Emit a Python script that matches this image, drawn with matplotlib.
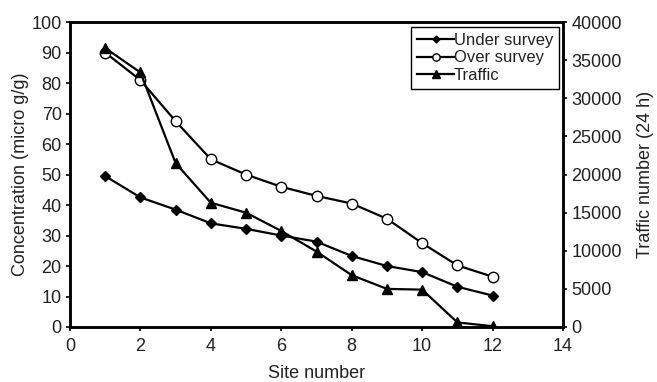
import matplotlib.pyplot as plt
import numpy as np

plt.rcParams['font.family'] = ['Liberation Sans', 'DejaVu Sans']
plt.rcParams['text.color'] = '#222222'
plt.rcParams['axes.labelcolor'] = '#222222'

# site numbers and values
sites = [1, 2, 3, 4, 5, 6, 7, 8, 9, 10, 11, 12]
under_survey = [49.5, 42.5, 38.5, 34.0, 32.2, 30.0, 28.0, 23.3, 20.0, 18.0, 13.2, 10.3]
over_survey = [90.0, 81.0, 67.5, 55.0, 50.0, 46.0, 43.0, 40.5, 35.5, 27.5, 20.2, 16.5]
traffic = [36600, 33400, 21500, 16300, 15000, 12600, 9900, 6800, 5000, 4900, 600, 100]

fig = plt.figure(figsize=(6.57, 3.82), dpi=100)
ax = fig.add_axes([0.1065, 0.144, 0.7505, 0.798])
ax2 = ax.twinx()

l1, = ax.plot(sites, under_survey, color='black', lw=1.6, marker='D', ms=5,
              mfc='black', label='Under survey')
l2, = ax.plot(sites, over_survey, color='black', lw=1.6, marker='o', ms=7.5,
              mfc='white', mec='black', mew=1, label='Over survey')
l3, = ax2.plot(sites, traffic, color='black', lw=1.6, marker='^', ms=7.5,
               mfc='black', label='Traffic')

ax.set_xlim(0, 14)
ax.set_ylim(0, 100)
ax2.set_ylim(0, 40000)
ax.set_xticks(np.arange(0, 15, 2))
ax.set_yticks(np.arange(0, 101, 10))
ax2.set_yticks(np.arange(0, 40001, 5000))

for a in (ax, ax2):
    for s in a.spines.values():
        s.set_linewidth(1.8)
    a.tick_params(direction='out', width=1.2, length=3, labelsize=13, pad=3,
                  labelcolor='#222222')
ax.tick_params(axis='x', pad=5)

ax.set_xlabel('Site number', fontsize=13, labelpad=7)
ax.set_ylabel('Concentration (micro g/g)', fontsize=13, labelpad=2)
ax2.set_ylabel('Traffic number (24 h)', fontsize=13, labelpad=11)

leg = ax.legend(handles=[l1, l2, l3], loc='upper right', fontsize=12,
                handlelength=2.2, handletextpad=0, borderpad=0.35,
                labelspacing=0.15, fancybox=False, framealpha=1,
                edgecolor='black', markerscale=0.7, borderaxespad=0,
                bbox_to_anchor=(0.992, 0.984))
leg.get_frame().set_linewidth(1.0)

fig.savefig('out.png', dpi=100)
